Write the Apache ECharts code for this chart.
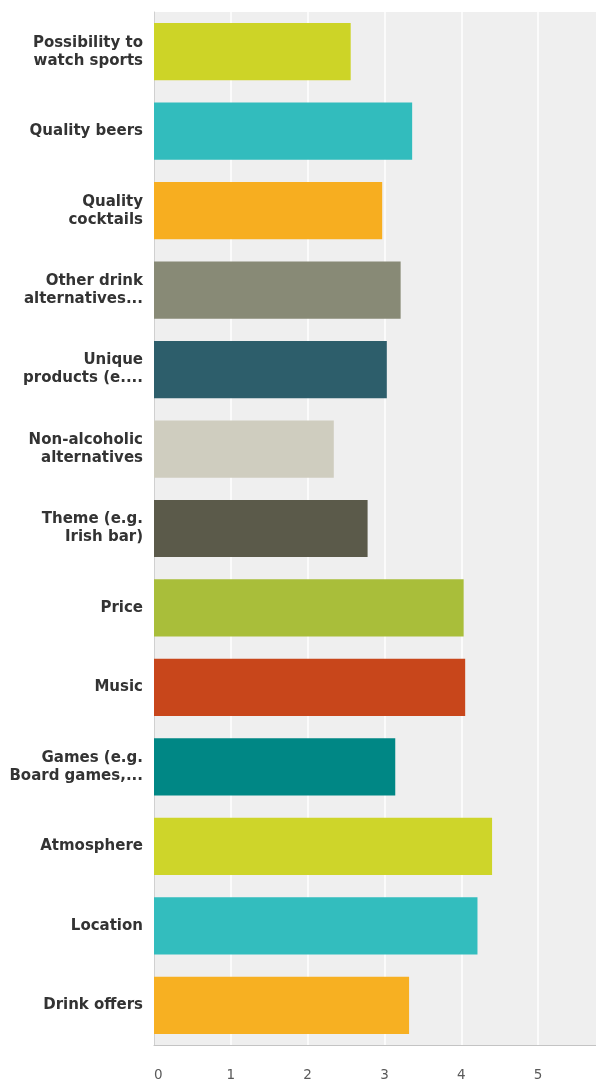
<!DOCTYPE html>
<html>
<head>
<meta charset="utf-8">
<style>
  html, body { margin: 0; padding: 0; background: #fff; }
  #chart { width: 596px; height: 1084px; }
</style>
<script src="https://cdn.jsdelivr.net/npm/echarts@6/dist/echarts.min.js"></script>
</head>
<body>
<div id="chart"></div>
<script>
// Ratings of what matters when choosing a bar (average score)
const categories = [
  'Possibility to\nwatch sports',
  'Quality beers',
  'Quality\ncocktails',
  'Other drink\nalternatives...',
  'Unique\nproducts (e....',
  'Non-alcoholic\nalternatives',
  'Theme (e.g.\nIrish bar)',
  'Price',
  'Music',
  'Games (e.g.\nBoard games,...',
  'Atmosphere',
  'Location',
  'Drink offers'
];
const scores = [2.56, 3.36, 2.97, 3.21, 3.03, 2.34, 2.78, 4.03, 4.05, 3.14, 4.40, 4.21, 3.32];
const barColors = [
  '#cdd427', '#32bcbd', '#f7ae20', '#888a76', '#2d5e6b', '#cfcdbf', '#5b5a4a',
  '#a9be3a', '#c8461b', '#008785', '#ced52a', '#33bdbe', '#f7b022'
];
const tickValues = [0, 1, 2, 3, 4, 5, 6];

const chart = echarts.init(document.getElementById('chart'), null, { renderer: 'canvas' });

chart.setOption({
  animation: false,
  grid: {
    left: 154,
    right: -19,
    top: 12,
    bottom: 39,
    outerBoundsMode: 'none',
    containLabel: false,
    show: true,
    backgroundColor: '#efefef',
    borderWidth: 0
  },
  xAxis: {
    type: 'value',
    min: tickValues[0],
    max: tickValues[tickValues.length - 1],
    interval: 1,
    axisLine: { show: true, lineStyle: { color: '#c4c4c4', width: 1 } },
    axisTick: { show: false },
    splitLine: { show: true, lineStyle: { color: '#ffffff', width: 1.5 } },
    axisLabel: {
      margin: 23,
      color: '#5a5a5a',
      fontFamily: 'DejaVu Sans',
      fontSize: 13.5,
      alignMinLabel: 'left'
    }
  },
  yAxis: {
    type: 'category',
    data: categories,
    inverse: true,
    axisLine: { show: true, lineStyle: { color: '#d0d0d0', width: 1 } },
    axisTick: { show: false },
    splitLine: { show: false },
    axisLabel: {
      margin: 11,
      color: '#333',
      fontFamily: 'DejaVu Sans',
      fontWeight: 'bold',
      fontSize: 15,
      lineHeight: 18,
      align: 'right'
    }
  },
  series: [{
    type: 'bar',
    data: scores.map((v, i) => ({ value: v, itemStyle: { color: barColors[i] } })),
    barCategoryGap: '28%',
    itemStyle: { borderWidth: 0 }
  }]
});
</script>
</body>
</html>
